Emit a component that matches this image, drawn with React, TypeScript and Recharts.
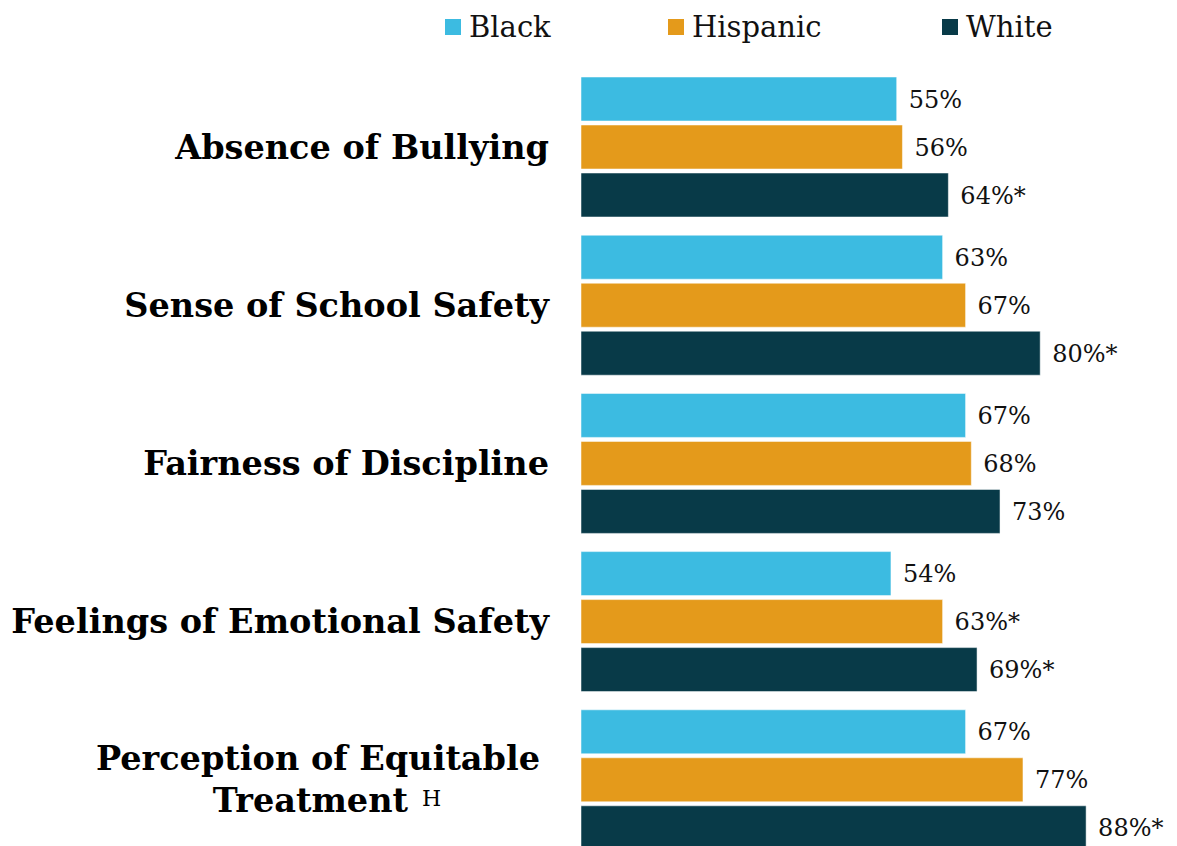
import React from "react";
import { Bar, BarChart, LabelList, Legend, XAxis, YAxis } from "recharts";

// School climate measures by student race/ethnicity
const categories = [
  "Absence of Bullying",
  "Sense of School Safety",
  "Fairness of Discipline",
  "Feelings of Emotional Safety",
  "Perception of Equitable\nTreatment",
];
const categoryNotes = ["", "", "", "", "H"];

const black = [55, 63, 67, 54, 67];
const hispanic = [56, 67, 68, 63, 77];
const white = [64, 80, 73, 69, 88];

// * = significant difference
const blackSig = [false, false, false, false, false];
const hispanicSig = [false, false, false, true, false];
const whiteSig = [true, true, false, true, true];

const seriesList = [
  { key: "black", name: "Black", color: "#3CBBE1" },
  { key: "hispanic", name: "Hispanic", color: "#E49A1B" },
  { key: "white", name: "White", color: "#083A48" },
];

const fmt = (v: number, sig: boolean) => `${v}%${sig ? "*" : ""}`;

const data = categories.map((name, i) => ({
  name,
  note: categoryNotes[i],
  black: black[i],
  hispanic: hispanic[i],
  white: white[i],
  blackLabel: fmt(black[i], blackSig[i]),
  hispanicLabel: fmt(hispanic[i], hispanicSig[i]),
  whiteLabel: fmt(white[i], whiteSig[i]),
}));

const SERIF = "'DejaVu Serif', Georgia, serif";

const legendLefts = [445, 668, 942];

function LegendContent() {
  return (
    <div style={{ position: "relative", width: 1177, height: 68 }}>
      {seriesList.map((s, i) => (
        <div
          key={s.key}
          style={{
            position: "absolute",
            left: legendLefts[i],
            top: 9,
            display: "flex",
            alignItems: "center",
            fontFamily: SERIF,
            fontSize: 29,
            color: "#111",
            lineHeight: "36px",
          }}
        >
          <span
            style={{
              display: "inline-block",
              width: 16,
              height: 16,
              background: s.color,
              marginRight: 8,
            }}
          />
          {s.name}
        </div>
      ))}
    </div>
  );
}

function CategoryTick(props: any) {
  const { x, y, payload } = props;
  const item = data.find((d) => d.name === payload.value);
  const lines = String(payload.value).split("\n");
  if (lines.length === 1) {
    return (
      <text
        x={x - 32}
        y={y}
        dy="0.35em"
        textAnchor="end"
        fontFamily={SERIF}
        fontWeight="bold"
        fontSize={33.5}
        fill="#000"
      >
        {lines[0]}
      </text>
    );
  }
  return (
    <text
      x={x - 263}
      y={y}
      textAnchor="middle"
      fontFamily={SERIF}
      fontWeight="bold"
      fontSize={33.5}
      fill="#000"
    >
      <tspan x={x - 263} dy="-0.3em">
        {lines[0]}
      </tspan>
      <tspan x={x - 254} dy="1.27em">
        {lines[1]}
        {item && item.note ? (
          <tspan fontWeight="normal" fontSize={22} dx={14} dy="-0.3em">
            {item.note}
          </tspan>
        ) : null}
      </tspan>
    </text>
  );
}

export default function App() {
  return (
    <div
      style={{
        position: "absolute",
        left: 0,
        top: 0,
        width: 1177,
        height: 846,
        overflow: "hidden",
        background: "#fff",
      }}
    >
      <BarChart
        width={1177}
        height={859}
        data={data}
        layout="vertical"
        margin={{ top: 0, right: 22, bottom: 0, left: 0 }}
        barCategoryGap={9}
        barGap={4}
      >
        <Legend
          verticalAlign="top"
          align="left"
          content={<LegendContent />}
          wrapperStyle={{ left: 0, top: 0, width: 1177, height: 68 }}
        />
        <XAxis type="number" domain={[0, 100]} hide />
        <YAxis
          type="category"
          dataKey="name"
          width={581}
          axisLine={false}
          tickLine={false}
          tickSize={0}
          tickMargin={0}
          interval={0}
          tick={<CategoryTick />}
        />
        {seriesList.map((s) => (
          <Bar
            key={s.key}
            dataKey={s.key}
            name={s.name}
            fill={s.color}
            stroke="#ffffff"
            strokeOpacity={0.5}
            strokeWidth={1}
            isAnimationActive={false}
          >
            <LabelList
              dataKey={`${s.key}Label`}
              position="right"
              offset={12}
              fontFamily={SERIF}
              fontSize={24}
              fill="#111"
            />
          </Bar>
        ))}
      </BarChart>
    </div>
  );
}
